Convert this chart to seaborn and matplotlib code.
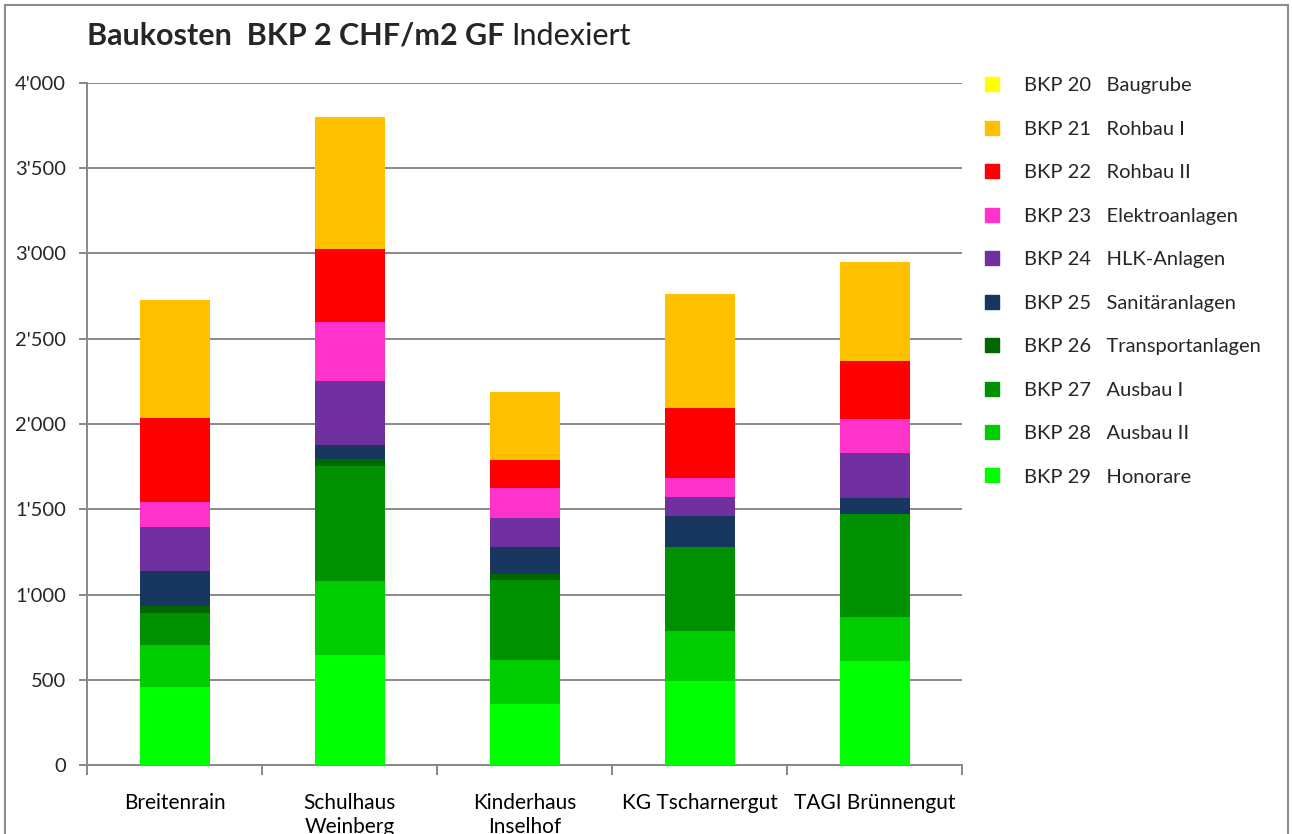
import numpy as np
import pandas as pd
import matplotlib
matplotlib.use("Agg")
import matplotlib.pyplot as plt
from matplotlib.lines import Line2D
from matplotlib.patches import Rectangle
from matplotlib.ticker import FuncFormatter, FixedLocator
import seaborn as sns

# Data (CHF/m2 GF)
projects = ["Breitenrain", "Schulhaus\nWeinberg", "Kinderhaus\nInselhof",
            "KG Tscharnergut", "TAGI Brünnengut"]

codes = ["BKP 20", "BKP 21", "BKP 22", "BKP 23", "BKP 24",
         "BKP 25", "BKP 26", "BKP 27", "BKP 28", "BKP 29"]
names = ["Baugrube", "Rohbau I", "Rohbau II", "Elektroanlagen", "HLK-Anlagen",
         "Sanitäranlagen", "Transportanlagen", "Ausbau I", "Ausbau II", "Honorare"]

bkp20 = [0, 0, 0, 0, 0]
bkp21 = [688, 772, 401, 666, 581]
bkp22 = [497, 430, 162, 411, 336]
bkp23 = [147, 344, 179, 115, 203]
bkp24 = [258, 377, 167, 109, 260]
bkp25 = [202, 84, 162, 184, 97]
bkp26 = [39, 41, 33, 0, 0]
bkp27 = [192, 670, 471, 494, 604]
bkp28 = [242, 438, 258, 293, 256]
bkp29 = [460, 644, 357, 490, 611]

colors = ["#FFFF00", "#FFC000", "#FF0000", "#FF33CC", "#7030A0",
          "#17375E", "#006600", "#009100", "#00CC00", "#00FF00"]

series = [bkp20, bkp21, bkp22, bkp23, bkp24, bkp25, bkp26, bkp27, bkp28, bkp29]

# stacking from bottom (BKP 29) to top (BKP 20)
df = pd.DataFrame({c: s for c, s in zip(codes, series)}, index=projects)
stack_order = codes[::-1]
cum = df[stack_order].cumsum(axis=1)

sns.set_style("white")
plt.rcParams["font.family"] = ["Lato", "DejaVu Sans"]

fig = plt.figure(figsize=(12.92, 8.34), dpi=100)
ax = fig.add_axes([87 / 1292, 1 - 765 / 834, 875 / 1292, 682 / 834])

# draw tallest cumulative first, then overlay the lower ones
for code in codes:
    col = colors[codes.index(code)]
    sns.barplot(x=cum.index, y=cum[code].values, color=col, width=0.4,
                saturation=1, ax=ax, zorder=3, linewidth=0, edgecolor="none")

ax.set_ylim(0, 4000)
ax.set_xlim(-0.5, 4.5)
ax.set_yticks(np.arange(0, 4001, 500))
ax.yaxis.set_major_formatter(FuncFormatter(lambda v, p: f"{int(v):,}".replace(",", "'")))
ax.grid(axis="y", color="#888888", lw=1.4, zorder=0)
ax.set_axisbelow(True)

ax.xaxis.set_minor_locator(FixedLocator(np.arange(-0.5, 5, 1)))
ax.tick_params(axis="x", which="major", length=0, pad=20, labelsize=15, colors="#000000")
ax.tick_params(axis="x", which="minor", length=7, width=1.4, color="#888888", bottom=True)
ax.tick_params(axis="y", length=6, width=1.4, color="#888888", left=True, pad=9,
               labelsize=14.5)
for lbl in ax.get_xticklabels():
    lbl.set_linespacing(1.25)
ax.set_xlabel("")
ax.set_ylabel("")

for s in ["top", "right"]:
    ax.spines[s].set_visible(False)
for s in ["left", "bottom"]:
    ax.spines[s].set_color("#888888")
    ax.spines[s].set_linewidth(1.4)

# title: bold part + regular part
t1 = fig.text(87 / 1292, 1 - 45 / 834, "Baukosten  BKP 2 CHF/m2 GF", fontsize=22,
              fontweight="bold", ha="left", va="baseline")
fig.canvas.draw()
bb = t1.get_window_extent()
fig.text((bb.x1 + 7) / 1292, 1 - 45 / 834, "Indexiert", fontsize=22,
         ha="left", va="baseline", color="#222222")

# legend
handles = [Line2D([0], [0], marker="s", ls="", markersize=10, color=c) for c in colors]
labels = [f"{c}   {n}" for c, n in zip(codes, names)]
fig.legend(handles, labels, loc="upper left", bbox_to_anchor=(962 / 1292, 1 - 59 / 834),
           frameon=False, fontsize=14.5, labelspacing=1.31, handletextpad=1.0,
           handlelength=1.2)

# outer frame
fig.patches.append(Rectangle((5 / 1292, -0.05), 1283 / 1292, 1.05 - 5 / 834,
                             transform=fig.transFigure, fill=False,
                             edgecolor="#8C8C8C", lw=1.5))

fig.savefig("out.png", dpi=100)
